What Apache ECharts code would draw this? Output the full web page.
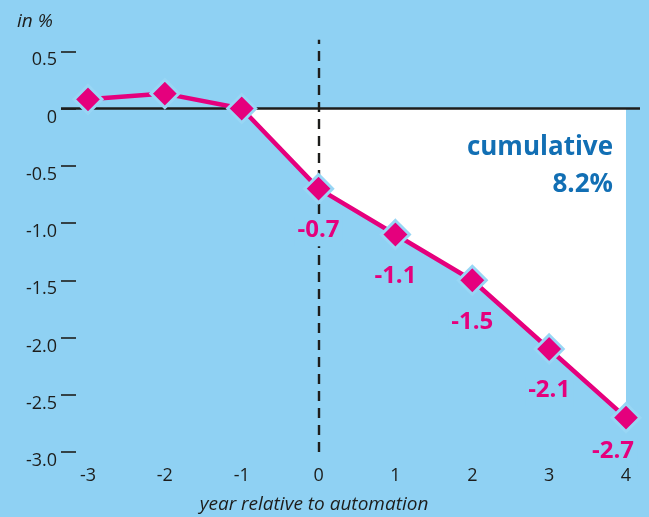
<!DOCTYPE html>
<html>
<head>
<meta charset="utf-8">
<title>Employment effect around automation</title>
<script src="https://cdn.jsdelivr.net/npm/echarts@6/dist/echarts.min.js"></script>
<style>
  html, body { margin: 0; padding: 0; background: #8fd1f3; }
  #chart { width: 649px; height: 517px; }
</style>
</head>
<body>
<div id="chart"></div>
<script>
// Years relative to the automation event and the estimated effect (in %)
const years = [-3, -2, -1, 0, 1, 2, 3, 4];
const effect = [0.08, 0.13, 0.0, -0.7, -1.1, -1.5, -2.1, -2.7];

// Axis ticks
const yTicks = [-3, -2.5, -2, -1.5, -1, -0.5, 0, 0.5];
const xTicks = [-3, -2, -1, 0, 1, 2, 3, 4];

const cumulativeText = ['cumulative', '8.2%'];

const MAGENTA = '#e5007d';
const BG = '#8fd1f3';
const INK = '#1d1d1b';
const FONT = '"Open Sans", "Noto Sans", sans-serif';

const chart = echarts.init(document.getElementById('chart'), null, { renderer: 'canvas' });

const points = years.map((x, i) => [x, effect[i]]);
// Shaded region runs from the last pre-automation year onward
const shaded = points.filter(p => p[0] >= -1);

const lineData = points.map((p, i) => {
  const item = { value: p, label: { show: p[0] >= 0 } };
  if (i === points.length - 1) {
    item.label.offset = [-13, -8];
  }
  return item;
});

const option = {
  backgroundColor: BG,
  animation: false,
  textStyle: { fontFamily: FONT },
  grid: { left: 61, right: 9, top: 39.8, bottom: 65, containLabel: false },
  xAxis: {
    type: 'value',
    min: -3.351,
    max: 4.182,
    axisLine: { show: false, onZero: false },
    axisTick: { show: false },
    splitLine: { show: false },
    axisLabel: {
      customValues: xTicks,
      formatter: v => String(v),
      color: INK,
      fontSize: 18,
      fontFamily: FONT,
      margin: 15
    }
  },
  yAxis: {
    type: 'value',
    min: -3,
    max: 0.6,
    axisLine: { show: false, onZero: false },
    splitLine: { show: false },
    axisTick: {
      show: true,
      inside: true,
      length: 15,
      customValues: yTicks,
      lineStyle: { color: INK, width: 1.6 }
    },
    axisLabel: {
      customValues: yTicks,
      formatter: v => (v === 0 ? '0' : v.toFixed(1)),
      color: INK,
      fontSize: 18,
      fontFamily: FONT,
      margin: 4,
      verticalAlign: 'top',
      lineHeight: 18
    }
  },
  graphic: [
    {
      type: 'text',
      left: 17,
      top: 12,
      style: {
        text: 'in %',
        font: 'italic 19px ' + FONT,
        fill: INK
      }
    },
    {
      type: 'text',
      x: 314,
      y: 505,
      style: {
        text: 'year relative to automation',
        font: 'italic 19px ' + FONT,
        fill: INK,
        align: 'center',
        verticalAlign: 'middle'
      }
    },
    {
      type: 'text',
      x: 613,
      y: 166,
      z: 20,
      style: {
        text: cumulativeText.join('\n'),
        font: 'bold 26px ' + FONT,
        lineHeight: 37,
        fill: '#126fb4',
        align: 'right',
        verticalAlign: 'middle'
      }
    }
  ],
  series: [
    {
      type: 'line',
      data: shaded,
      z: 1,
      silent: true,
      showSymbol: false,
      symbol: 'none',
      lineStyle: { width: 0, opacity: 0 },
      areaStyle: { color: '#ffffff', opacity: 1, origin: 0 },
      markLine: {
        silent: true,
        z: 2,
        symbol: ['none', 'none'],
        label: { show: false },
        data: [
          { yAxis: 0, lineStyle: { color: INK, width: 2.6, type: 'solid' } },
          { xAxis: 0, lineStyle: { color: INK, width: 2.4, type: [10, 7] } }
        ]
      }
    },
    {
      type: 'line',
      data: lineData,
      z: 10,
      symbol: 'diamond',
      symbolSize: 28,
      lineStyle: { color: MAGENTA, width: 4.5 },
      itemStyle: { color: MAGENTA, borderColor: '#98d6f5', borderWidth: 3 },
      label: {
        position: 'bottom',
        distance: 12,
        formatter: p => String(p.value[1]),
        color: MAGENTA,
        fontWeight: 'bold',
        fontSize: 24,
        fontFamily: FONT,
        backgroundColor: BG,
        padding: [2, 3, 4, 3]
      }
    }
  ]
};

chart.setOption(option);
</script>
</body>
</html>
